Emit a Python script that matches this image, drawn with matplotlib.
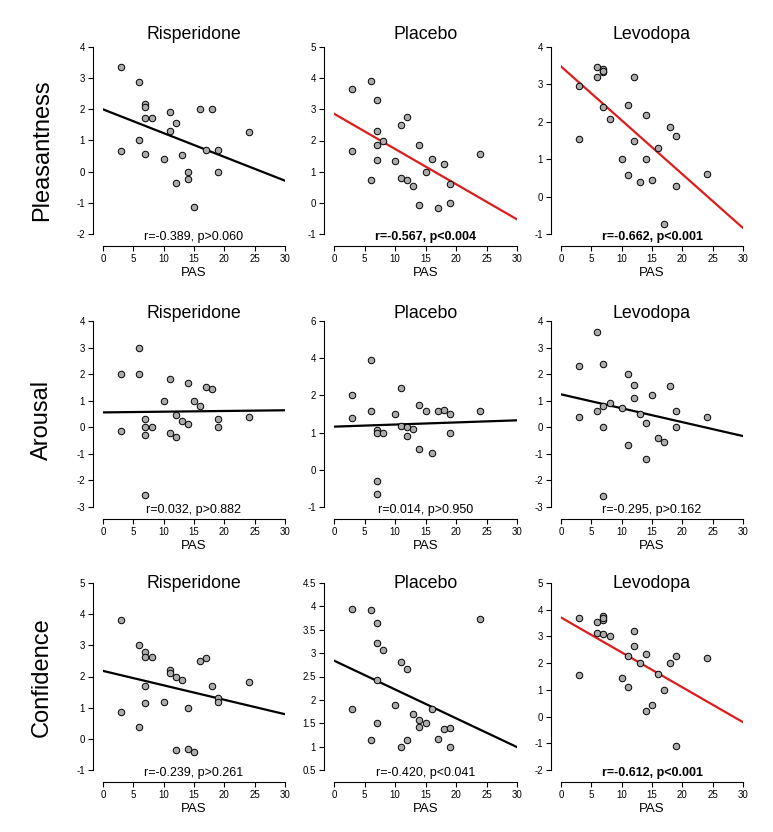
import matplotlib.pyplot as plt
import numpy as np

plt.rcParams['font.family'] = ['Liberation Sans', 'DejaVu Sans']

# PAS score of each subject (x values, same for every panel)
pas = [3, 3, 6, 6, 7, 7, 7, 7, 8, 10, 11, 11, 12, 12, 13, 14, 14, 15, 16, 17, 18, 19, 19, 24]

drugs = ['Risperidone', 'Placebo', 'Levodopa']
measures = ['Pleasantness', 'Arousal', 'Confidence']

# ratings, one list per panel, ordered like pas
pleas_ris = [3.36, 0.67, 2.87, 1.0, 2.16, 2.09, 1.71, 0.56, 1.72, 0.40, 1.90, 1.30,
             1.56, -0.37, 0.55, 0.0, -0.23, -1.14, 2.0, 0.69, 2.0, 0.69, 0.0, 1.27]
pleas_pla = [3.65, 1.67, 3.9, 0.72, 3.3, 2.3, 1.87, 1.38, 2.0, 1.33, 2.5, 0.8,
             2.75, 0.72, 0.55, 1.85, -0.07, 1.0, 1.4, -0.15, 1.25, 0.6, 0.0, 1.57]
pleas_lev = [2.95, 1.55, 3.47, 3.2, 3.4, 3.32, 3.35, 2.4, 2.08, 1.0, 2.45, 0.58,
             3.2, 1.5, 0.38, 2.17, 1.0, 0.45, 1.3, -0.72, 1.85, 1.62, 0.28, 0.6]

arous_ris = [2.0, -0.13, 3.0, 2.0, 0.3, 0.0, -0.28, -2.54, 0.0, 1.0, 1.8, -0.2,
             0.45, -0.35, 0.23, 1.68, 0.12, 1.0, 0.8, 1.5, 1.45, 0.3, 0.0, 0.37]
arous_pla = [2.02, 1.39, 2.95, 1.57, 1.06, 0.99, -0.29, -0.66, 1.0, 1.49, 2.2, 1.17,
             1.14, 0.91, 1.11, 1.75, 0.57, 1.58, 0.44, 1.57, 1.62, 1.5, 1.0, 1.57]
arous_lev = [2.31, 0.4, 3.6, 0.6, 2.4, 0.79, 0.0, -2.59, 0.91, 0.71, 2.0, -0.68,
             1.6, 1.12, 0.5, 0.16, -1.21, 1.21, -0.4, -0.55, 1.56, 0.62, 0.0, 0.4]

conf_ris = [3.82, 0.86, 3.0, 0.38, 2.8, 2.62, 1.71, 1.14, 2.64, 1.19, 2.2, 2.1,
            2.0, -0.37, 1.89, 1.0, -0.34, -0.43, 2.5, 2.6, 1.71, 1.3, 1.17, 1.82]
conf_pla = [3.95, 1.8, 3.92, 1.15, 3.65, 3.22, 2.43, 1.5, 3.06, 1.89, 2.8, 1.0,
            2.67, 1.15, 1.7, 1.58, 1.42, 1.5, 1.8, 1.16, 1.38, 1.4, 1.0, 3.72]
conf_lev = [3.69, 1.55, 3.54, 3.11, 3.78, 3.6, 3.1, 3.7, 3.0, 1.43, 2.25, 1.09,
            3.2, 2.63, 2.0, 2.33, 0.2, 0.45, 1.6, 1.0, 2.0, 2.25, -1.09, 2.2]

# regression line: value at PAS=0 and at PAS=30
fit_pleas = [(2.0, -0.29), (2.86, -0.53), (3.48, -0.84)]
fit_arous = [(0.56, 0.64), (1.16, 1.33), (1.24, -0.33)]
fit_conf = [(2.18, 0.79), (2.84, 0.99), (3.71, -0.21)]

stats_pleas = ['r=-0.389, p>0.060', 'r=-0.567, p<0.004', 'r=-0.662, p<0.001']
stats_arous = ['r=0.032, p>0.882', 'r=0.014, p>0.950', 'r=-0.295, p>0.162']
stats_conf = ['r=-0.239, p>0.261', 'r=-0.420, p<0.041', 'r=-0.612, p<0.001']
red_pleas = [False, True, True]
red_arous = [False, False, False]
red_conf = [False, False, True]
bold_pleas = [False, True, True]
bold_arous = [False, False, False]
bold_conf = [False, False, True]

yt_pleas = [[-2, -1, 0, 1, 2, 3, 4], [-1, 0, 1, 2, 3, 4, 5], [-1, 0, 1, 2, 3, 4]]
yt_arous = [[-3, -2, -1, 0, 1, 2, 3, 4], [-1, 0, 1, 2, 3, 4], [-3, -2, -1, 0, 1, 2, 3, 4]]
yt_conf = [[-1, 0, 1, 2, 3, 4, 5], [0.5, 1, 1.5, 2, 2.5, 3, 3.5, 4, 4.5], [-2, -1, 0, 1, 2, 3, 4, 5]]
# the placebo/arousal panel has odd labels on its axis
ylab_arous_pla = ['-1', '0', '1', '2', '4', '6']

xticks = [0, 5, 10, 15, 20, 25, 30]

rows = [
    (measures[0], [pleas_ris, pleas_pla, pleas_lev], fit_pleas, stats_pleas, red_pleas, bold_pleas, yt_pleas),
    (measures[1], [arous_ris, arous_pla, arous_lev], fit_arous, stats_arous, red_arous, bold_arous, yt_arous),
    (measures[2], [conf_ris, conf_pla, conf_lev], fit_conf, stats_conf, red_conf, bold_conf, yt_conf),
]

W, H = 773, 832
fig = plt.figure(figsize=(W / 100, H / 100), dpi=100)

# plot regions in pixels
col_px = [(103, 285), (334, 517), (561, 743)]
row_px = [(47, 234), (321, 507), (583, 770)]
title_base = [39, 318, 588]
label_y = [150, 420, 677]

for r, (measure, ys, fits, stats, reds, bolds, yts) in enumerate(rows):
    top, bot = row_px[r]
    fig.text(42 / W, 1 - label_y[r] / H, measure, rotation=90, fontsize=17,
             ha='center', va='center')
    for c in range(3):
        x0, x1 = col_px[c]
        ax = fig.add_axes([x0 / W, 1 - bot / H, (x1 - x0) / W, (bot - top) / H])
        ax.patch.set_visible(False)
        ax.scatter(pas, ys[c], s=22, c='#ababab', edgecolors='black', linewidths=0.7,
                   zorder=3, clip_on=False)
        col = '#dd1c1c' if reds[c] else 'black'
        ax.plot([0, 30], list(fits[c]), color=col, lw=1.6, zorder=2)

        yt = yts[c]
        ax.set_xlim(0, 30)
        ax.set_ylim(yt[0], yt[-1])
        ax.set_xticks(xticks)
        ax.set_yticks(yt)
        if r == 1 and c == 1:
            ax.set_yticklabels(ylab_arous_pla)
        else:
            ax.set_yticklabels(['%g' % v for v in yt])

        for s in ['top', 'right']:
            ax.spines[s].set_visible(False)
        ax.spines['left'].set_position(('outward', 7))
        ax.spines['bottom'].set_position(('outward', 8.6))
        ax.spines['left'].set_linewidth(0.8)
        ax.spines['bottom'].set_linewidth(0.8)
        ax.tick_params(direction='out', length=3.6, width=0.8, labelsize=7, pad=2.5)
        ax.set_xlabel('PAS', fontsize=9.5, labelpad=2)

        ax.annotate(stats[c], xy=(0.5, 0), xycoords='axes fraction', xytext=(0, -2.5),
                    textcoords='offset points', ha='center', va='center', fontsize=9,
                    fontweight='bold' if bolds[c] else 'normal')

        fig.text((x0 + x1) / 2 / W, 1 - title_base[r] / H, drugs[c], fontsize=12.8,
                 ha='center', va='baseline')

fig.savefig('out.png', dpi=100)
